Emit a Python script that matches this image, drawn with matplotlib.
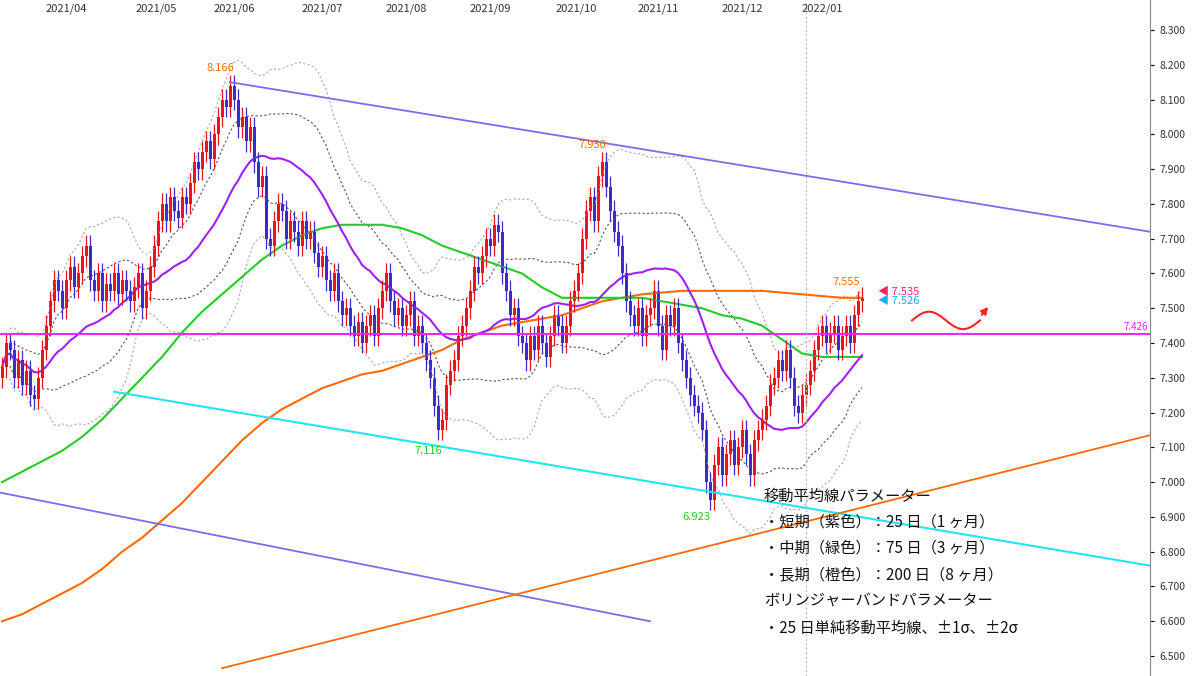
import numpy as np, pandas as pd
import matplotlib
matplotlib.use("Agg")
import matplotlib.pyplot as plt

closes = [7.33,7.40,7.38,7.30,7.35,7.28,7.32,7.25,7.24,7.30,
7.38,7.45,7.52,7.58,7.55,7.50,7.58,7.62,7.56,7.60,
7.65,7.68,7.58,7.55,7.60,7.52,7.57,7.55,7.60,7.54,
7.58,7.55,7.52,7.56,7.60,7.50,7.55,7.62,7.68,7.75,
7.80,7.75,7.82,7.78,7.76,7.82,7.80,7.86,7.92,7.90,
7.95,7.98,7.93,8.00,8.05,8.10,8.08,8.14,8.10,8.02,
8.05,7.98,8.02,7.92,7.85,7.88,7.70,7.68,7.75,7.80,
7.78,7.70,7.75,7.72,7.68,7.75,7.70,7.72,7.66,7.62,
7.65,7.58,7.55,7.60,7.52,7.48,7.50,7.45,7.42,7.46,
7.40,7.45,7.48,7.42,7.50,7.55,7.60,7.52,7.48,7.50,
7.45,7.48,7.52,7.42,7.45,7.40,7.35,7.30,7.22,7.15,
7.18,7.28,7.32,7.35,7.42,7.45,7.50,7.55,7.62,7.60,
7.65,7.70,7.68,7.74,7.72,7.60,7.55,7.48,7.50,7.42,
7.40,7.35,7.42,7.38,7.45,7.40,7.36,7.42,7.48,7.45,
7.40,7.45,7.52,7.55,7.60,7.70,7.78,7.82,7.75,7.88,
7.92,7.85,7.78,7.72,7.68,7.60,7.52,7.48,7.45,7.50,
7.42,7.48,7.50,7.55,7.45,7.38,7.48,7.45,7.50,7.40,
7.35,7.30,7.25,7.22,7.20,7.15,7.00,6.95,7.05,7.10,
7.02,7.08,7.12,7.05,7.10,7.15,7.08,7.02,7.12,7.15,
7.18,7.22,7.28,7.30,7.35,7.32,7.38,7.30,7.22,7.20,
7.25,7.28,7.32,7.38,7.42,7.45,7.40,7.43,7.45,7.38,
7.42,7.45,7.40,7.48,7.52,7.53]
first_open = 7.30

ma75_idx = [0,5,10,15,20,25,30,35,40,45,50,55,60,65,70,75,80,85,90,95,100,105,110,115,120,125,130,135,140,145,150,155,160,165,170,175,180,185,190,195,200,205,210,215]
ma75_val = [7.0,7.03,7.06,7.09,7.13,7.18,7.24,7.30,7.36,7.43,7.49,7.54,7.59,7.64,7.68,7.71,7.73,7.74,7.74,7.74,7.73,7.71,7.68,7.66,7.64,7.62,7.60,7.56,7.53,7.53,7.53,7.53,7.53,7.52,7.51,7.50,7.48,7.47,7.45,7.41,7.37,7.36,7.36,7.36]
ma200_idx = ma75_idx
ma200_val = [6.60,6.62,6.65,6.68,6.71,6.75,6.80,6.84,6.89,6.94,7.00,7.06,7.12,7.17,7.21,7.24,7.27,7.29,7.31,7.32,7.34,7.36,7.38,7.41,7.43,7.45,7.46,7.47,7.48,7.50,7.52,7.53,7.54,7.545,7.55,7.55,7.55,7.55,7.55,7.545,7.54,7.535,7.53,7.53]

month_labels = ["2021/04","2021/05","2021/06","2021/07","2021/08","2021/09","2021/10","2021/11","2021/12","2022/01"]
month_idx = [16,38.5,58,80,101,122,143.5,164,185,205]
yticks = np.round(np.arange(6.5,8.301,0.1),1)

plt.rcParams['font.family'] = ['Noto Sans CJK JP','DejaVu Sans']
fig = plt.figure(figsize=(12,6.76), dpi=100)
ax = fig.add_axes([0,0,1150/1200,1])
ax.set_xlim(-0.5,287)
ax.set_ylim(8.3-646/347.8, 8.3+30/347.8)

c = np.array(closes); n=len(c); x=np.arange(n)
o = np.concatenate([[first_open], c[:-1]])
s = pd.Series(c)
m25 = s.rolling(25,min_periods=1).mean(); sd = s.rolling(25,min_periods=3).std()
for k,col in [(2,'#aaaaaa'),(1,'#555555')]:
    ax.plot(x, m25+k*sd, ls=(0,(2,2)), color=col, lw=0.8)
    ax.plot(x, m25-k*sd, ls=(0,(2,2)), color=col, lw=0.8)
ax.plot(ma200_idx, ma200_val, color='#ff6a00', lw=1.5)
ax.plot(ma75_idx, ma75_val, color='#22cc22', lw=1.5)
ax.plot(x, m25, color='#a020f0', lw=1.5)

for i in range(n):
    up = c[i]>=o[i]
    col = '#e8141e' if up else '#3b2cc8'
    lo, hi = min(o[i],c[i]), max(o[i],c[i])
    ax.vlines(i, lo-0.03, hi+0.03, color=col, lw=0.9)
    ax.bar(i, max(hi-lo,0.004), bottom=lo, width=0.75, color=col)

ax.plot([57,287],[8.15,7.72], color='#7b6cf0', lw=1.3)
ax.plot([-0.5,162],[6.97,6.60], color='#7b6cf0', lw=1.3)
ax.plot([28,287],[7.26,6.76], color='#22e5f0', lw=1.5)
ax.plot([55,287],[6.465,7.135], color='#ff6a00', lw=1.3)
ax.axhline(7.426, color='#ff22ff', lw=1.5)
ax.axvline(201, color='#bbbbbb', lw=0.8, ls=(0,(2,2)))
ax.text(286.5,7.432,"7.426",color='#ff22ff',fontsize=7,ha='right',va='bottom')

for xi,yv,t,col in [(54.5,8.19,"8.166",'#ff6a00'),(147.5,7.97,"7.950",'#ff6a00'),
                    (106.5,7.09,"7.116",'#22cc22'),(173.5,6.9,"6.923",'#22cc22'),
                    (211,7.575,"7.555",'#ff6a00')]:
    ax.text(xi,yv,t,color=col,fontsize=8,ha='center',va='center')
ax.text(219,7.548,"◀ 7.535",color='#ff2266',fontsize=8,va='center')
ax.text(219,7.522,"◀ 7.526",color='#22aaee',fontsize=8,va='center')
tw = np.linspace(0,1,60)
ax.plot(227.5+tw*17, 7.465+0.025*np.sin(tw*2*np.pi), color='#ff2222', lw=1.5)
ax.annotate("",xy=(247,7.51),xytext=(244.5,7.475),arrowprops=dict(arrowstyle='-|>',color='#ff2222',lw=1.5))

for t,yv in [("移動平均線パラメーター",6.96),("・短期（紫色）：25 日（1 ヶ月）",6.885),
             ("・中期（緑色）：75 日（3 ヶ月）",6.81),("・長期（橙色）：200 日（8 ヶ月）",6.735),
             ("ボリンジャーバンドパラメーター",6.66),("・25 日単純移動平均線、±1σ、±2σ",6.58)]:
    ax.text(190.5,yv,t,fontsize=11,va='center',color='#111111')

for t,xi in zip(month_labels,month_idx):
    ax.text(xi,8.36,t,fontsize=8,ha='center',va='center',color='#333333')

ax.yaxis.tick_right()
ax.set_yticks(yticks)
ax.set_yticklabels([f"{v:.3f}" for v in yticks], fontsize=7.5, color='#333333')
ax.set_xticks([])
ax.tick_params(axis='y', length=3)
for sp in ['top','left','bottom']:
    ax.spines[sp].set_visible(False)
ax.spines['right'].set_color('#888888')
fig.savefig("out.png", dpi=100)
